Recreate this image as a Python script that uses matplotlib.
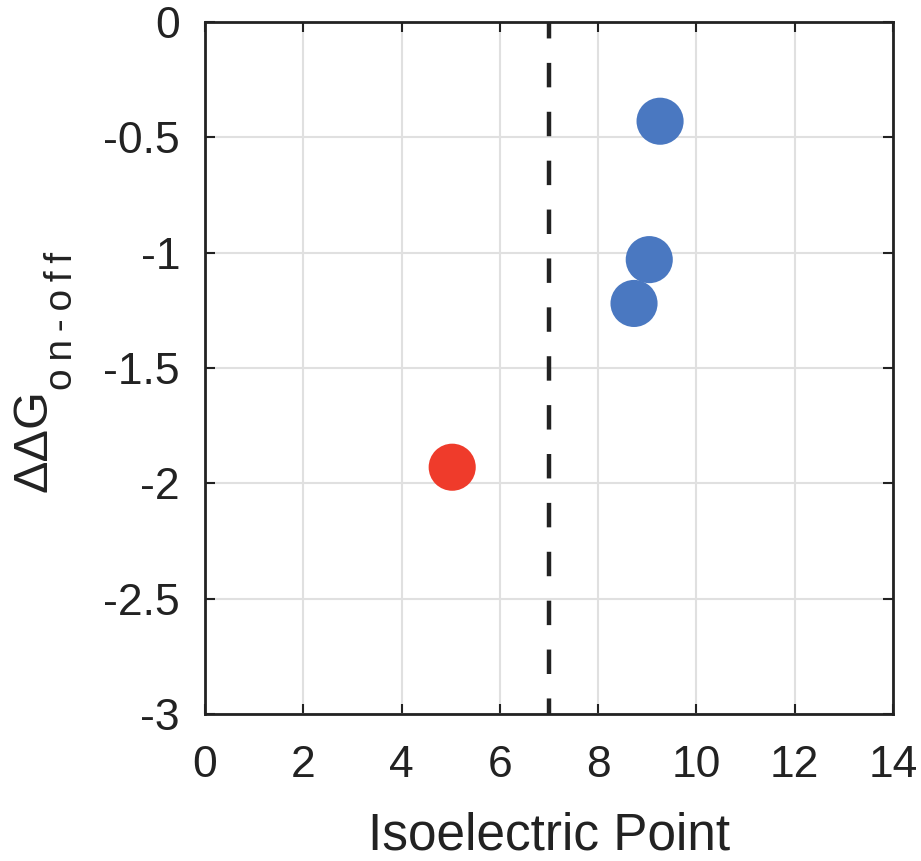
import numpy as np
import matplotlib.pyplot as plt

plt.rcParams['font.family'] = ['Liberation Sans', 'DejaVu Sans']

# data
pi_basic = [9.26, 9.04, 8.73]
dg_basic = [-0.43, -1.03, -1.22]
pi_acidic = [5.03]
dg_acidic = [-1.93]
neutral_pi = 7

fig = plt.figure(figsize=(9.21, 8.61), dpi=100)
ax = fig.add_axes([0.2226, 0.1707, 0.747, 0.8037])

ax.grid(True, color='#e0e0e0', linewidth=1.5)
ax.set_axisbelow(True)

ax.axvline(neutral_pi, color='#222222', linewidth=3.2, linestyle=(2, (5.5, 5.5)))
ax.scatter(pi_basic, dg_basic, s=1150, color='#4a78c1', zorder=3, edgecolors='none')
ax.scatter(pi_acidic, dg_acidic, s=1150, color='#ef3b2b', zorder=3, edgecolors='none')

ax.set_xlim(0, 14)
ax.set_ylim(-3, 0)
ax.set_xticks(np.arange(0, 15, 2))
ax.set_yticks([-3, -2.5, -2, -1.5, -1, -0.5, 0])
ax.set_yticklabels(['-3', '-2.5', '-2', '-1.5', '-1', '-0.5', '0'])

ax.tick_params(direction='in', length=7, width=1.5, labelsize=32,
               top=True, right=True, colors='#222222', labelcolor='#222222')
ax.tick_params(axis='x', pad=22)
ax.tick_params(axis='y', pad=18)
for s in ax.spines.values():
    s.set_linewidth(2)
    s.set_color('#222222')

ax.set_xlabel('Isoelectric Point', fontsize=37, color='#222222', labelpad=19)

# y label: big "ΔΔG" plus a spaced-out subscript, as two rotated texts
W, H = 921, 861
fig.text(34 / W, 1 - 441 / H, 'ΔΔG', rotation=90, fontsize=35, color='#222222',
         ha='center', va='center')
fig.text(62 / W, 1 - 321 / H, 'o\u2009n\u2009-\u2009o\u2009f\u2009f', rotation=90,
         fontsize=28, color='#222222', ha='center', va='center')

fig.savefig('out.png', dpi=100)
